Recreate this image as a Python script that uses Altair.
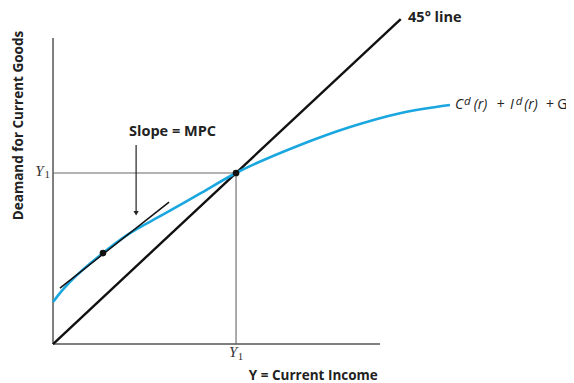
import altair as alt
import pandas as pd

# Units: Y1 = 100 on both axes (45-degree line is y = x)
line45_x = [0, 190]
line45_y = [0, 190]

curve_x = [0, 3.8, 9.3, 27.3, 40.4, 60, 80, 100, 135, 162.3, 189.6, 216.9]
curve_y = [24.6, 29.8, 36.3, 53.2, 63.7, 75.6, 87.8, 100, 116.4, 126.9, 135.0, 139.8]

tangent_x = [3.8, 63.4]
tangent_y = [32.7, 83.0]

points_x = [27.3, 100]
points_y = [53.2, 100]

Y1 = 100
axis_x_max = 178.7
axis_y_max = 179.0

arrow_x = 45.4
arrow_y = [116.4, 76.5]

# label for the demand curve, built from pieces
curve_lbl_text = ["C", "d", "(r)", "+", "I", "d", "(r)", "+", "G"]
curve_lbl_x = [219.7, 224.6, 229.9, 242.4, 249.7, 252.9, 257.5, 269.4, 275.5]
curve_lbl_sup = [0, 1, 0, 0, 0, 1, 0, 0, 0]
curve_lbl_italic = [1, 1, 1, 0, 1, 1, 1, 0, 0]
curve_lbl_y = 139.6

xs = alt.Scale(domain=[-24.6, 280.3], nice=False, zero=False)
ys = alt.Scale(domain=[-22.8, 196.5], nice=False, zero=False)


def X(f="x"):
    return alt.X(f"{f}:Q", scale=xs, axis=None)


def Y(f="y"):
    return alt.Y(f"{f}:Q", scale=ys, axis=None)


def seg(x0, y0, x1, y1):
    return pd.DataFrame({"x": [x0], "y": [y0], "x2": [x1], "y2": [y1]})


def label(x, y, t, **kw):
    base = dict(color="#222222", baseline="middle", align="left")
    base.update(kw)
    return alt.Chart(pd.DataFrame({"x": [x], "y": [y], "t": [t]})).mark_text(**base).encode(
        x=X(), y=Y(), text="t:N")


# axes
axes_df = pd.concat([
    seg(0, 0, axis_x_max, 0),
    seg(0, 0, 0, axis_y_max),
])
axes = alt.Chart(axes_df).mark_rule(color="#555555", strokeWidth=1.5).encode(
    x=X(), y=Y(), x2="x2:Q", y2="y2:Q")

guides_df = pd.concat([
    seg(0, Y1, Y1, Y1),
    seg(Y1, 0, Y1, Y1),
])
guides = alt.Chart(guides_df).mark_rule(color="#666666", strokeWidth=1.1).encode(
    x=X(), y=Y(), x2="x2:Q", y2="y2:Q")

line45 = alt.Chart(pd.DataFrame({"x": line45_x, "y": line45_y})).mark_line(
    color="#111111", strokeWidth=2.4).encode(x=X(), y=Y())

curve = alt.Chart(pd.DataFrame({"x": curve_x, "y": curve_y})).mark_line(
    color="#1aa7e0", strokeWidth=2.6, interpolate="monotone").encode(x=X(), y=Y())

tangent = alt.Chart(pd.DataFrame({"x": tangent_x, "y": tangent_y})).mark_line(
    color="#111111", strokeWidth=1.5).encode(x=X(), y=Y())

pts = alt.Chart(pd.DataFrame({"x": points_x, "y": points_y})).mark_point(
    filled=True, color="#111111", size=45, opacity=1).encode(x=X(), y=Y())

arrow_line = alt.Chart(seg(arrow_x, arrow_y[0], arrow_x, arrow_y[1])).mark_rule(
    color="#222222", strokeWidth=1.2).encode(x=X(), y=Y(), x2="x2:Q", y2="y2:Q")
arrow_head = alt.Chart(pd.DataFrame({"x": [arrow_x], "y": [arrow_y[1]]})).mark_point(
    shape="triangle-down", filled=True, color="#222222", size=28, opacity=1).encode(
    x=X(), y=Y())

bold_font = "Open Sans"
serif = "Liberation Serif"

texts = [
    label(65.3, 124.0, "Slope = MPC", font=bold_font, fontWeight="bold", fontSize=14.5,
          align="center"),
    label(107.0, -18.7, "Y = Current Income", font=bold_font, fontWeight="bold",
          fontSize=13.5),
    label(-18.6, 127.8, "Deamand for Current Goods", font=bold_font, fontWeight="bold",
          fontSize=13.5, align="center", angle=270),
    label(194.0, 190.8, "45° line", font=bold_font, fontWeight="bold", fontSize=14.5),
    # Y1 on the vertical axis
    label(-7.4, 101.4, "Y", font=serif, fontStyle="italic", fontSize=15, color="#333333",
          align="center"),
    label(-3.2, 98.6, "1", font=serif, fontSize=11, color="#333333", align="center"),
    # Y1 on the horizontal axis
    label(98.4, -4.9, "Y", font=serif, fontStyle="italic", fontSize=15, color="#333333",
          align="center"),
    label(102.4, -7.7, "1", font=serif, fontSize=11, color="#333333", align="center"),
]

for t, x, sup, it in zip(curve_lbl_text, curve_lbl_x, curve_lbl_sup, curve_lbl_italic):
    kw = dict(font="Open Sans", fontSize=11.5 if sup else 14, color="#222222")
    if it:
        kw["fontStyle"] = "italic"
    texts.append(label(x, curve_lbl_y + (2.2 if sup else 0), t, **kw))

chart = alt.layer(
    axes, guides, line45, curve, tangent, pts, arrow_line, arrow_head, *texts,
).properties(
    width=558, height=375,
    autosize=alt.AutoSizeParams(type="none"),
    padding=0,
).configure_view(stroke=None)

chart.save("out.html", embed_options={"renderer": "svg", "actions": False})
